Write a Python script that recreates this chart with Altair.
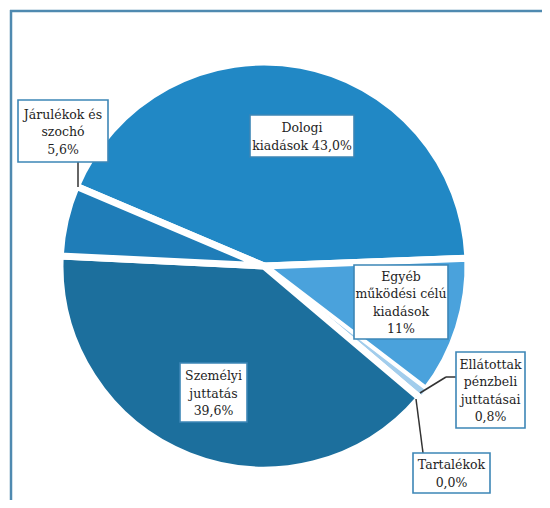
import math
import altair as alt
import pandas as pd

# ---- data ----
categories = [
    "Dologi kiadások",
    "Egyéb működési célú kiadások",
    "Ellátottak pénzbeli juttatásai",
    "Tartalékok",
    "Személyi juttatás",
    "Járulékok és szochó",
]
values = [43.0, 11.0, 0.8, 0.0, 39.6, 5.6]
label_texts = [
    "Dologi\nkiadások 43,0%",
    "Egyéb\nműködési célú\nkiadások\n11%",
    "Ellátottak\npénzbeli\njuttatásai\n0,8%",
    "Tartalékok\n0,0%",
    "Személyi\njuttatás\n39,6%",
    "Járulékok és\nszochó\n5,6%",
]

# ---- styles / layout ----
colors = ["#2188c5", "#4aa2dc", "#a2cdec", "#9cc8e8", "#1c6f9d", "#1f7db8"]
cx, cy, R = 256, 258, 204
start = math.radians(293)
LH = 17.5

box_x0 = [242, 346, 448, 405, 172, 10]
box_x1 = [346, 440, 517, 482, 239, 100]
box_y0 = [107, 257, 344, 445, 355, 92]
box_y1 = [149, 331, 420, 485, 414, 154]

seg_x = [70, 448, 438, 415]
seg_y = [154, 369, 369, 445]
seg_x2 = [70, 438, 412, 408]
seg_y2 = [179, 369, 385, 391]

pie_df = pd.DataFrame({"category": categories, "value": values, "order": list(range(len(values)))})
lab_df = pd.DataFrame({
    "category": categories,
    "text": label_texts,
    "x0": box_x0, "x1": box_x1, "y0": box_y0, "y1": box_y1,
})
lab_df["nl"] = [t.count("\n") for t in label_texts]
lab_df["xc"] = (lab_df.x0 + lab_df.x1) / 2
lab_df["yt"] = (lab_df.y0 + lab_df.y1) / 2 - lab_df.nl * LH / 2 + 1
seg_df = pd.DataFrame({"x": seg_x, "y": seg_y, "x2": seg_x2, "y2": seg_y2})

pie = alt.Chart(pie_df).mark_arc(outerRadius=R, stroke="white").encode(
    theta=alt.Theta("value:Q", stack=True, scale=alt.Scale(range=[start, start + 2 * math.pi])),
    color=alt.Color("category:N", scale=alt.Scale(domain=categories, range=colors), legend=None),
    order=alt.Order("order:Q"),
    strokeWidth=alt.condition(
        alt.datum.category == "Ellátottak pénzbeli juttatásai", alt.value(1.2), alt.value(7)
    ),
    x=alt.value(cx),
    y=alt.value(cy),
)

leaders = alt.Chart(seg_df).mark_rule(color="#333333", strokeWidth=1.5).encode(
    x=alt.X("x:Q", scale=None), y=alt.Y("y:Q", scale=None),
    x2="x2:Q", y2="y2:Q",
)

boxes = alt.Chart(lab_df).mark_rect(fill="white", stroke="#3d86b6", strokeWidth=1.6).encode(
    x=alt.X("x0:Q", scale=None), x2="x1:Q",
    y=alt.Y("y0:Q", scale=None), y2="y1:Q",
)

texts = alt.Chart(lab_df).mark_text(
    font="DejaVu Serif", fontSize=12.5, fontWeight="normal", color="#1e1e1e",
    lineBreak="\n", lineHeight=LH, align="center", baseline="middle",
).encode(
    x=alt.X("xc:Q", scale=None), y=alt.Y("yt:Q", scale=None), text="text:N",
)

frame_top = alt.Chart(pd.DataFrame({"k": [0]})).mark_rule(color="#4f8ab0", strokeWidth=2.5).encode(
    x=alt.value(2), x2=alt.value(534), y=alt.value(3)
)
frame_left = alt.Chart(pd.DataFrame({"k": [0]})).mark_rule(color="#4f8ab0", strokeWidth=2.5).encode(
    x=alt.value(3), y=alt.value(2), y2=alt.value(492)
)

chart = alt.layer(frame_top, frame_left, pie, leaders, boxes, texts).properties(
    width=534, height=492, padding=0, autosize=alt.AutoSizeParams(type="none"),
).configure_view(stroke=None)

chart.save("out.html", embed_options={"renderer": "svg", "actions": False})
